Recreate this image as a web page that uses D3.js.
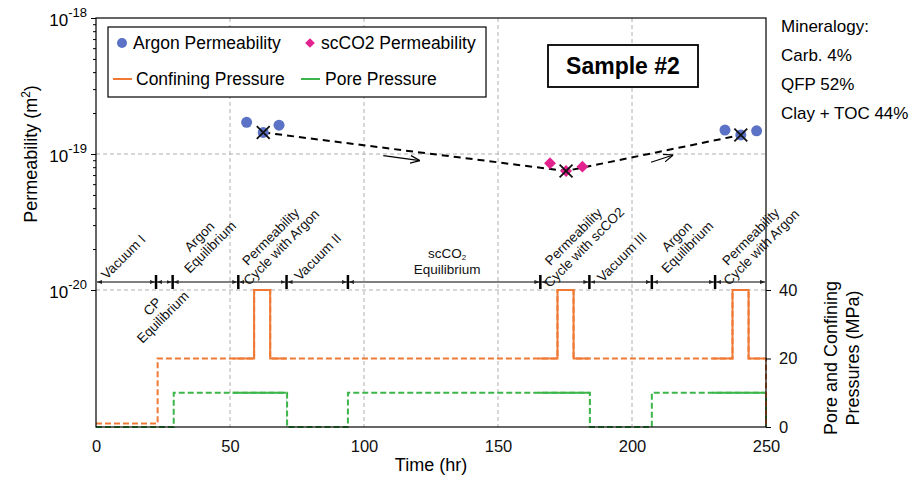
<!DOCTYPE html>
<html>
<head>
<meta charset="utf-8">
<script src="https://cdn.jsdelivr.net/npm/d3@7"></script>
<style>
  body { margin: 0; background: #fff; }
  svg { font-family: "Liberation Sans", Arial, sans-serif; }
</style>
</head>
<body>
<svg id="chart" width="912" height="477"></svg>
<script>
// ---- datos ----
const timeTicks = [0, 50, 100, 150, 200, 250]
const permMajor = [1e-18, 1e-19, 1e-20]
const pressureTicks = [0, 20, 40]

// permeabilidad con argon (hr, m2)
const argonTime = [56.2, 62.4, 68.3, 234.7, 240.6, 246.5]
const argonPerm = [1.71e-19, 1.44e-19, 1.63e-19, 1.50e-19, 1.38e-19, 1.48e-19]
// permeabilidad con scCO2
const co2Time = [169.4, 175.4, 181.5]
const co2Perm = [8.55e-20, 7.5e-20, 8.07e-20]
// promedios marcados con X y unidos con linea punteada
const meanTime = [62.4, 175.4, 240.6]
const meanPerm = [1.44e-19, 7.5e-20, 1.38e-19]

// presion de confinamiento (escalones, MPa)
const confTime = [0, 23, 59, 65, 172.2, 178.2, 237.5, 243.5, 250]
const confValue = [1, 20, 40, 20, 40, 20, 40, 20, 0]
// presion de poro
const poreTime = [0, 29, 71.3, 94, 184.3, 207.4, 250]
const poreValue = [0, 10, 0, 10, 0, 10, 0]
// tramos con linea continua (ciclos de permeabilidad)
const solidSpans = [[51, 71], [165, 184], [230, 249.5]]

// limites de fases
const phaseBounds = [0, 22.4, 28.6, 53.1, 71.1, 94.0, 165.8, 184.1, 207.4, 231.0, 250]
const phaseLabels = [
  { lines: ["Vacuum I"], t: 10.2, below: false },
  { lines: ["CP", "Equilibrium"], t: 23.0, below: true },
  { lines: ["Argon", "Equilibrium"], t: 40.6, below: false },
  { lines: ["Permeability", "Cycle with Argon"], t: 67.2, below: false },
  { lines: ["Vacuum II"], t: 82.8, below: false },
  { lines: ["Permeability", "Cycle with scCO2"], t: 180.2, below: false },
  { lines: ["Vacuum III"], t: 196.3, below: false },
  { lines: ["Argon", "Equilibrium"], t: 218.7, below: false },
  { lines: ["Permeability", "Cycle with Argon"], t: 246.3, below: false }
]

// flechas de tendencia [t0, k0, t1, k1]
const trendArrows = [
  [107.2, 9.72e-20, 120.9, 8.93e-20],
  [207.1, 8.69e-20, 215.4, 9.84e-20]
]

const mineralogy = ["Mineralogy:", "Carb. 4%", "QFP 52%", "Clay + TOC 44%"]

// ---- colores ----
const blue = "#5b72c6", pink = "#e2238f", orange = "#f07a35", green = "#3db54a", grid = "#b0b0b0"

const svg = d3.select("#chart")
const mLeft = 96, mRight = 766, mTop = 18, logBottom = 290, mBottom = 427

const x = d3.scaleLinear().domain([0, 250]).range([mLeft, mRight])
const yK = d3.scaleLog().domain([1e-20, 1e-18]).range([logBottom, mTop])
const yP = d3.scaleLinear().domain([0, 40]).range([mBottom, logBottom])

// defs: clip para tramos continuos y marcadores de flecha
const defs = svg.append("defs")
const clip = defs.append("clipPath").attr("id", "solidClip")
solidSpans.forEach(s => {
  clip.append("rect").attr("x", x(s[0])).attr("y", 0)
    .attr("width", x(s[1]) - x(s[0])).attr("height", 477)
})
defs.append("marker").attr("id", "tri")
  .attr("viewBox", "0 0 10 10").attr("refX", 10).attr("refY", 5)
  .attr("markerWidth", 5).attr("markerHeight", 5)
  .attr("markerUnits", "userSpaceOnUse").attr("orient", "auto-start-reverse")
  .append("path").attr("d", "M0,1L10,5L0,9Z").attr("fill", "#222")
defs.append("marker").attr("id", "openArrow")
  .attr("viewBox", "0 0 10 10").attr("refX", 10).attr("refY", 5)
  .attr("markerWidth", 10).attr("markerHeight", 10)
  .attr("markerUnits", "userSpaceOnUse").attr("orient", "auto")
  .append("path").attr("d", "M0,1L10,5L0,9").attr("fill", "none")
  .attr("stroke", "#000").attr("stroke-width", 1.2)

// ---- rejilla ----
const gGrid = svg.append("g")
gGrid.selectAll("line.v").data(timeTicks.filter(d => d > 0 && d < 250)).join("line")
  .attr("x1", d => x(d)).attr("x2", d => x(d)).attr("y1", mTop).attr("y2", mBottom)
  .attr("stroke", grid).attr("stroke-dasharray", "4,3")
gGrid.selectAll("line.h").data([1e-19, 1e-20]).join("line")
  .attr("x1", mLeft).attr("x2", mRight).attr("y1", d => yK(d)).attr("y2", d => yK(d))
  .attr("stroke", grid).attr("stroke-dasharray", "4,3")

// ---- presiones ----
const stepLine = d3.line().x(d => x(d[0])).y(d => yP(d[1])).curve(d3.curveStepAfter)
const confData = confTime.map((t, i) => [t, confValue[i]])
const poreData = poreTime.map((t, i) => [t, poreValue[i]])
;[[poreData, green], [confData, orange]].forEach(([data, col]) => {
  svg.append("path").attr("d", stepLine(data)).attr("fill", "none")
    .attr("stroke", col).attr("stroke-width", 2).attr("stroke-dasharray", "6,3")
  svg.append("path").attr("d", stepLine(data)).attr("fill", "none")
    .attr("stroke", col).attr("stroke-width", 2).attr("clip-path", "url(#solidClip)")
})

// ---- linea de fases ----
const phaseY = 282
const gPhase = svg.append("g")
d3.pairs(phaseBounds).forEach(([a, b]) => {
  gPhase.append("line").attr("x1", x(a) + 1).attr("x2", x(b) - 1)
    .attr("y1", phaseY).attr("y2", phaseY)
    .attr("stroke", "#555").attr("stroke-width", 1.5)
    .attr("marker-start", "url(#tri)").attr("marker-end", "url(#tri)")
})
gPhase.selectAll("line.tk").data(phaseBounds.slice(1, -1)).join("line")
  .attr("x1", d => x(d)).attr("x2", d => x(d)).attr("y1", phaseY - 7).attr("y2", phaseY + 7)
  .attr("stroke", "#000").attr("stroke-width", 2.5)

phaseLabels.forEach(p => {
  const cx = x(p.t), cy = p.below ? 312 : (p.lines.length > 1 ? 242 : 257)
  const t = gPhase.append("text")
    .attr("transform", `translate(${cx},${cy}) rotate(-45)`)
    .attr("text-anchor", "middle").attr("font-size", 13.5).attr("fill", "#111")
  const n = p.lines.length
  p.lines.forEach((l, i) => {
    t.append("tspan").attr("x", 0).attr("y", (i - (n - 1) / 2) * 15 + 4.5).text(l)
  })
})
// scCO2 Equilibrium (horizontal, con subindice)
const eqT = svg.append("text").attr("x", x(131)).attr("y", 258)
  .attr("text-anchor", "middle").attr("font-size", 13.5).attr("fill", "#111")
eqT.append("tspan").text("scCO")
eqT.append("tspan").attr("font-size", 8).attr("dy", 2).text("2")
svg.append("text").attr("x", x(131)).attr("y", 274)
  .attr("text-anchor", "middle").attr("font-size", 13.5).attr("fill", "#111").text("Equilibrium")

// ---- permeabilidad ----
svg.append("path")
  .attr("d", d3.line().x((d, i) => x(meanTime[i])).y(d => yK(d))(meanPerm))
  .attr("fill", "none").attr("stroke", "#000").attr("stroke-width", 2)
  .attr("stroke-dasharray", "7,5")

trendArrows.forEach(a => {
  svg.append("line").attr("x1", x(a[0])).attr("y1", yK(a[1]))
    .attr("x2", x(a[2])).attr("y2", yK(a[3]))
    .attr("stroke", "#000").attr("stroke-width", 1.2).attr("marker-end", "url(#openArrow)")
})

svg.selectAll("circle.ar").data(argonPerm).join("circle")
  .attr("cx", (d, i) => x(argonTime[i])).attr("cy", d => yK(d)).attr("r", 5.5)
  .attr("fill", blue)
const diamond = d3.symbol().type(d3.symbolDiamond2).size(90)
svg.selectAll("path.co").data(co2Perm).join("path")
  .attr("d", diamond)
  .attr("transform", (d, i) => `translate(${x(co2Time[i])},${yK(d)})`)
  .attr("fill", pink)
const cross = d3.symbol().type(d3.symbolX).size(110)
svg.selectAll("path.mx").data(meanPerm).join("path")
  .attr("d", cross)
  .attr("transform", (d, i) => `translate(${x(meanTime[i])},${yK(d)})`)
  .attr("fill", "none").attr("stroke", "#111").attr("stroke-width", 1.8)

// ---- marco y ejes ----
svg.append("rect").attr("x", mLeft).attr("y", mTop)
  .attr("width", mRight - mLeft).attr("height", mBottom - mTop)
  .attr("fill", "none").attr("stroke", "#000").attr("stroke-width", 1.2)

const minorTicks = []
;[1e-20, 1e-19].forEach(b => d3.range(2, 10).forEach(m => minorTicks.push(b * m)))
const gLeft = svg.append("g").attr("transform", `translate(${mLeft},0)`)
  .call(d3.axisLeft(yK).tickValues(permMajor.concat(minorTicks)).tickFormat("").tickSize(5))
gLeft.select(".domain").remove()
gLeft.selectAll(".tick line").filter(d => !permMajor.includes(d)).attr("x2", -3)
permMajor.forEach(v => {
  const t = svg.append("text").attr("x", mLeft - 9).attr("y", yK(v) + 8)
    .attr("text-anchor", "end").attr("font-size", 17)
  t.append("tspan").text("10")
  t.append("tspan").attr("font-size", 13).attr("dy", -9).text("-" + Math.round(-Math.log10(v)))
})

const gBottom = svg.append("g").attr("transform", `translate(0,${mBottom})`)
  .call(d3.axisBottom(x).tickValues(timeTicks).tickSize(0).tickPadding(13))
gBottom.select(".domain").remove()
gBottom.selectAll("text").attr("font-size", 16.5).attr("font-family", null).attr("fill", "#111")

const gRight = svg.append("g").attr("transform", `translate(${mRight},0)`)
  .call(d3.axisRight(yP).tickValues(pressureTicks).tickSize(5).tickPadding(8))
gRight.select(".domain").remove()
gRight.selectAll("text").attr("font-size", 16.5).attr("font-family", null).attr("fill", "#111")

// titulos de ejes
svg.append("text").attr("x", 431).attr("y", 471).attr("text-anchor", "middle")
  .attr("font-size", 18).text("Time (hr)")
const yl = svg.append("text").attr("transform", "translate(37,154) rotate(-90)")
  .attr("text-anchor", "middle").attr("font-size", 18)
yl.append("tspan").text("Permeability (m")
yl.append("tspan").attr("font-size", 12).attr("dy", -7).text("2")
yl.append("tspan").attr("dy", 7).text(")")
const yr = svg.append("text").attr("transform", "translate(837,358) rotate(-90)")
  .attr("text-anchor", "middle").attr("font-size", 18)
yr.append("tspan").attr("x", 0).attr("y", 0).text("Pore and Confining")
yr.append("tspan").attr("x", 0).attr("y", 22).text("Pressures (MPa)")

// ---- leyenda ----
const gLeg = svg.append("g")
gLeg.append("rect").attr("x", 108).attr("y", 27).attr("width", 378).attr("height", 70)
  .attr("fill", "#fff").attr("stroke", "#000").attr("stroke-width", 1.2)
gLeg.append("circle").attr("cx", 122).attr("cy", 43).attr("r", 5).attr("fill", blue)
gLeg.append("text").attr("x", 133).attr("y", 49).attr("font-size", 17.5).text("Argon Permeability")
gLeg.append("path").attr("d", d3.symbol().type(d3.symbolDiamond2).size(60))
  .attr("transform", "translate(310,43)").attr("fill", pink)
gLeg.append("text").attr("x", 321).attr("y", 49).attr("font-size", 17.5).text("scCO2 Permeability")
gLeg.append("line").attr("x1", 113).attr("x2", 132).attr("y1", 79).attr("y2", 79)
  .attr("stroke", orange).attr("stroke-width", 2)
gLeg.append("text").attr("x", 136).attr("y", 85).attr("font-size", 17.5).text("Confining Pressure")
gLeg.append("line").attr("x1", 301).attr("x2", 320).attr("y1", 79).attr("y2", 79)
  .attr("stroke", green).attr("stroke-width", 2)
gLeg.append("text").attr("x", 325).attr("y", 85).attr("font-size", 17.5).text("Pore Pressure")

// ---- caja de muestra ----
svg.append("rect").attr("x", 548).attr("y", 45).attr("width", 150).attr("height", 42)
  .attr("fill", "#fff").attr("stroke", "#000").attr("stroke-width", 1.8)
svg.append("text").attr("x", 623).attr("y", 74).attr("text-anchor", "middle")
  .attr("font-size", 23).attr("font-weight", "bold").text("Sample #2")

// ---- mineralogia ----
svg.selectAll("text.min").data(mineralogy).join("text")
  .attr("x", 781).attr("y", (d, i) => 32 + i * 29).attr("font-size", 17).text(d => d)
</script>
</body>
</html>
